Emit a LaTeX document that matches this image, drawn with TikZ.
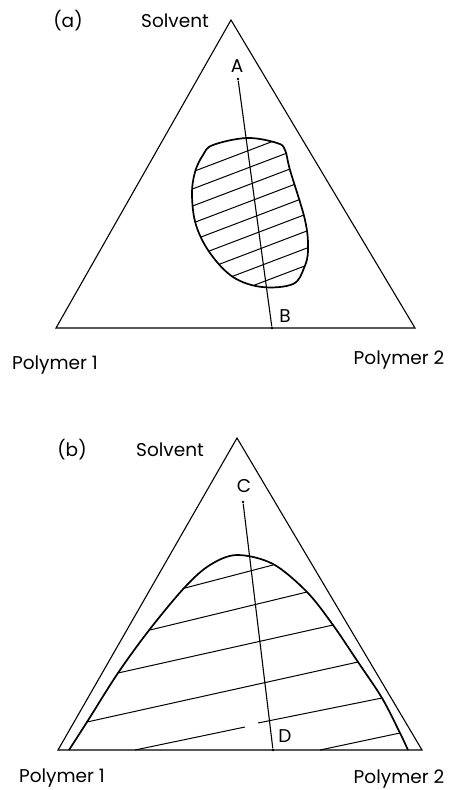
\documentclass[tikz,border=0pt]{standalone}
\usepackage{fontspec}
\setmainfont{Poppins}
\begin{document}
\begin{tikzpicture}[x=1pt, y=-1pt,
	line width=1pt,
	lato/.style={line width=1.1pt, line join=miter},
	bordo/.style={line width=1.7pt, line join=round},
	tratto/.style={line width=1pt},
	retta/.style={line width=1.1pt},
	etich/.style={font=\fontsize{18.5}{18.5}\selectfont, inner sep=0pt},
	punto/.style={circle, fill=black, inner sep=0pt, minimum size=2.6pt}]
	
	\useasboundingbox (0,0) rectangle (448,790);
	
	%% ===== (a) =====
	\coordinate (Sa) at (231,20);
	\coordinate (P1a) at (56,328);
	\coordinate (P2a) at (415,328);
	\draw[lato] (P1a) -- (Sa) -- (P2a) -- cycle;
	
	\node[etich] (lab_a) at (68,21) {(a)};
	\node[etich] (solv_a) at (175,21) {Solvent};
	\node[etich] (pol1_a) at (55,365) {Polymer 1};
	\node[etich] (pol2_a) at (399,360) {Polymer 2};
	
	%% isola bifasica tratteggiata
	\def\isola{(213,145) (247,138) (277,143) (285,150) (290,170) (305,220)
		(308,250) (304,268) (293,284) (262,287) (233,277) (210,253)
		(196,225) (192,195) (195,172) (203,155)}
	\begin{scope}
		\clip plot[smooth cycle, tension=0.6] coordinates {\isola};
		\foreach \k in {0,...,8}
			\draw[tratto] (180,{150+17.1*\k+26.6}) -- (320,{150+17.1*\k-26.6});
	\end{scope}
	\draw[bordo] plot[smooth cycle, tension=0.6] coordinates {\isola};
	
	%% retta A-B
	\node[punto] (A) at (238,79) {};
	\node[punto] (B) at (272,328) {};
	\draw[retta] (A) -- (B);
	\node[etich] (labA) at (237,66) {A};
	\node[etich] (labB) at (285,316) {B};
	
	%% ===== (b) =====
	\coordinate (Sb) at (237,438);
	\coordinate (P1b) at (58,750);
	\coordinate (P2b) at (422,750);
	\draw[lato] (P1b) -- (Sb) -- (P2b) -- cycle;
	
	\node[etich] (lab_b) at (72,450) {(b)};
	\node[etich] (solv_b) at (170,450) {Solvent};
	\node[etich] (pol1_b) at (62,778) {Polymer 1};
	\node[etich] (pol2_b) at (399,779) {Polymer 2};
	
	%% curva binodale
	\draw[bordo] plot[smooth, tension=0.55] coordinates {(69,750) (87,722) (118,673)
		(150,629) (185,587) (210,565) (237,555) (273,564) (307,592) (333,625)
		(358,662) (382,698) (400,733) (408,750)};
	
	%% linee di coniugazione
	\draw[tratto] (185,588) -- (273,565);
	\draw[tratto] (150,630) -- (307,592);
	\draw[tratto] (118,673) -- (333,625);
	\draw[tratto] (87,722) -- (358,662);
	\draw[tratto] (135,750) -- (245,727);
	\draw[tratto] (258,723) -- (382,698);
	\draw[tratto] (320,750) -- (400,733);
	
	%% retta C-D
	\node[punto] (C) at (243,502) {};
	\node[punto] (D) at (273,750) {};
	\draw[retta] (C) -- (D);
	\node[etich] (labC) at (244,486) {C};
	\node[etich] (labD) at (285,736) {D};
	
\end{tikzpicture}
\end{document}
